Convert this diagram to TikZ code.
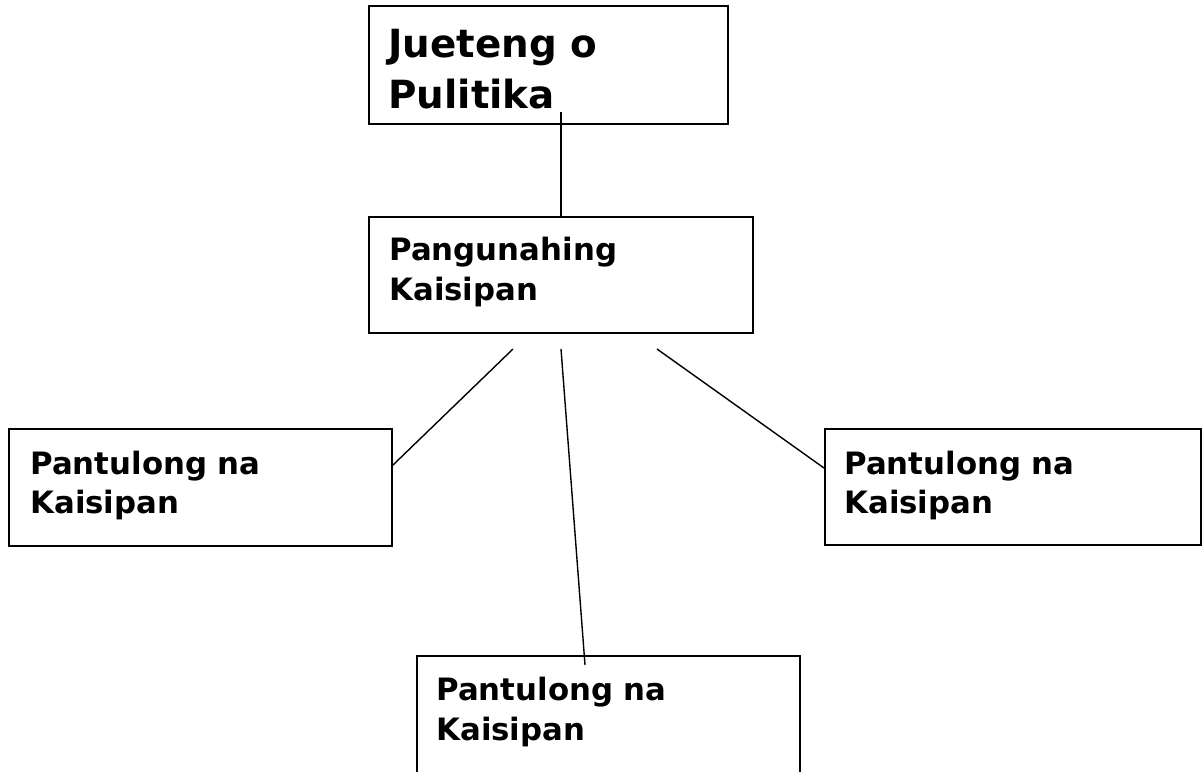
\documentclass[tikz,border=0pt]{standalone}
\usepackage{fontspec}
\setmainfont{DejaVu Sans}
\begin{document}
\begin{tikzpicture}[x=0.5pt,y=-0.5pt,
  box/.style={draw=black, line width=1pt, inner sep=0pt, outer sep=0pt, fill=none},
  conn/.style={draw=black, line width=0.7pt},
  bigtxt/.style={anchor=base west, inner sep=0pt, font=\fontsize{19.4}{24}\selectfont\bfseries},
  smalltxt/.style={anchor=base west, inner sep=0pt, font=\fontsize{15.4}{20}\selectfont\bfseries}]
\useasboundingbox (0,0) rectangle (1203,771);
% boxes
\node[box, minimum width=179.5pt, minimum height=59pt] (b1) at (548.5,64.5) {};
\node[box, minimum width=192pt, minimum height=58pt] (b2) at (561,275) {};
\node[box, minimum width=191.5pt, minimum height=58.5pt] (b3) at (200.5,487) {};
\node[box, minimum width=188pt, minimum height=58pt] (b4) at (1013,487) {};
\node[box, minimum width=191.5pt, minimum height=60pt] (b5) at (608.5,716) {};
% texts
\node[bigtxt] (t1a) at (388,57) {Jueteng o};
\node[bigtxt] (t1b) at (388,108) {Pulitika};
\node[smalltxt] (t2a) at (389,260) {Pangunahing};
\node[smalltxt] (t2b) at (389,300) {Kaisipan};
\node[smalltxt] (t3a) at (30,474) {Pantulong na};
\node[smalltxt] (t3b) at (30,513) {Kaisipan};
\node[smalltxt] (t4a) at (844,474) {Pantulong na};
\node[smalltxt] (t4b) at (844,513) {Kaisipan};
\node[smalltxt] (t5a) at (436,700) {Pantulong na};
\node[smalltxt] (t5b) at (436,740) {Kaisipan};
% connector end points
\coordinate (s1) at (561,112);
\coordinate (sl) at (513,349);
\coordinate (sm) at (561,349);
\coordinate (sr) at (657,349);
\coordinate (el) at (393,465);
\coordinate (em) at (585,665);
\coordinate (er) at (824,468);
% connectors
\draw[conn] (s1) -- (b2.north);
\draw[conn] (sl) -- (el);
\draw[conn] (sm) -- (em);
\draw[conn] (sr) -- (er);
\end{tikzpicture}
\end{document}
